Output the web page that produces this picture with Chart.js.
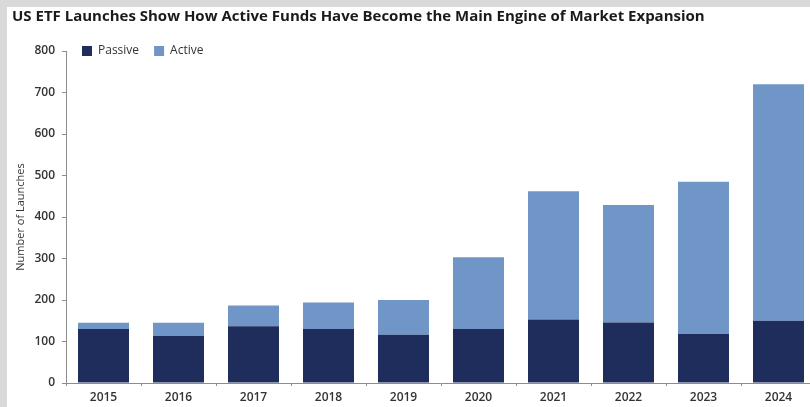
<!DOCTYPE html>
<html>
<head>
<meta charset="utf-8">
<script src="https://cdn.jsdelivr.net/npm/chart.js@4.4.1/dist/chart.umd.min.js"></script>
<style>
    html, body { margin: 0; padding: 0; background: #d9d9d9; overflow: hidden; width: 810px; height: 407px; }
    #wrap { position: absolute; left: 7px; top: 7px; width: 812px; height: 400px; background: #fff; }
</style>
</head>
<body>
<div id="wrap"><canvas id="etfLaunches"></canvas></div>
<script>
const years = ['2015', '2016', '2017', '2018', '2019', '2020', '2021', '2022', '2023', '2024'];
const passive = [130, 113, 137, 130, 116, 130, 153, 146, 118, 150];
const active = [15, 32, 50, 64, 84, 173, 309, 283, 367, 570];

const axisGray = '#8c8c8c';
const textGray = '#333';

// put the legend inside the plot, level with the 800 tick
const legendShift = {
    id: 'legendShift',
    afterLayout(chart) {
        const lg = chart.legend;
        const h = lg.height;
        lg.left = 60;
        lg.top = 23;
        lg.bottom = lg.top + h;
    }
};

Chart.defaults.font.family = "'Open Sans', sans-serif";

new Chart(document.getElementById('etfLaunches'), {
    type: 'bar',
    data: {
        labels: years,
        datasets: [
            { label: 'Passive', data: passive, backgroundColor: '#1e2d5c' },
            { label: 'Active', data: active, backgroundColor: '#6f96c7' }
        ]
    },
    options: {
        responsive: true,
        maintainAspectRatio: false,
        animation: false,
        barPercentage: 0.68,
        categoryPercentage: 1,
        layout: { padding: { left: 5, right: 3, top: 0, bottom: 0 } },
        scales: {
            x: {
                stacked: true,
                afterFit(scale) { scale.height = 24; },
                grid: { drawOnChartArea: false, tickLength: 3, color: axisGray },
                border: { color: axisGray, width: 1 },
                ticks: { color: textGray, padding: 4, font: { size: 12, weight: '600' } }
            },
            y: {
                stacked: true,
                min: 0,
                max: 800,
                afterFit(scale) { scale.width = 54; },
                grid: { drawOnChartArea: false, tickLength: 4, color: axisGray },
                border: { color: axisGray, width: 1 },
                ticks: { stepSize: 100, color: textGray, padding: 7, font: { size: 12, weight: '600' } },
                title: {
                    display: true,
                    text: 'Number of Launches',
                    color: textGray,
                    padding: 2,
                    font: { size: 11 }
                }
            }
        },
        plugins: {
            title: {
                display: true,
                text: 'US ETF Launches Show How Active Funds Have Become the Main Engine of Market Expansion',
                align: 'start',
                color: '#1a1a1a',
                padding: { top: 1, bottom: -12 },
                font: { size: 15, weight: 'bold' }
            },
            legend: {
                position: 'top',
                align: 'start',
                labels: {
                    boxWidth: 10,
                    boxHeight: 10,
                    padding: 15,
                    color: textGray,
                    font: { size: 12 }
                }
            },
            tooltip: { enabled: false }
        }
    },
    plugins: [legendShift]
});
</script>
</body>
</html>
